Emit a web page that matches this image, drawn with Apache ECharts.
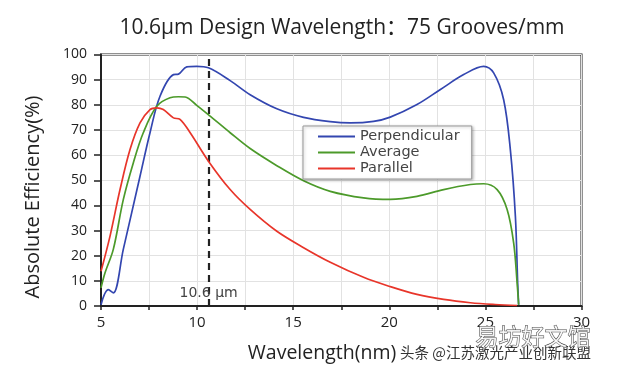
<!DOCTYPE html>
<html><head><meta charset="utf-8">
<script src="https://cdn.jsdelivr.net/npm/echarts@6/dist/echarts.min.js"></script>
<style>html,body{margin:0;padding:0;background:#fff}#c{width:620px;height:370px}</style>
</head><body><div id="c"></div>
<script>
var titleText = '10.6µm Design Wavelength：75 Grooves/mm';
var xName = 'Wavelength(nm)';
var yName = 'Absolute Efficiency(%)';
var seriesNames = ['Perpendicular', 'Average', 'Parallel'];
var designWavelength = 10.6;
var designLabel = '10.6 µm';

var perpX = [5, 5.38, 5.64, 6.16, 7.03, 7.55, 8.07, 8.77, 9.03, 9.46, 9.98, 10.59, 11.72, 12.76, 14.15, 15.54, 16.93, 17.97, 19.18, 20.05, 21.44, 22.66, 23.87, 24.91, 25.43, 25.95, 26.3, 26.56, 26.68, 26.73];
var perpY = [0.5, 6.5, 5.2, 22.5, 51.6, 68.9, 83.4, 92, 92.2, 95.1, 95.3, 94.7, 89.6, 84, 78.4, 75, 73.3, 72.8, 73.4, 75.1, 80.1, 86.1, 92, 95.3, 92.7, 82, 62, 35.7, 9, 0.5];

var avgX = [5, 5.21, 5.64, 6.16, 6.68, 7.2, 7.9, 8.59, 9.03, 9.38, 9.98, 10.68, 11.72, 12.76, 14.15, 15.54, 16.93, 18.66, 20.05, 21.44, 22.83, 24.22, 24.91, 25.61, 26.13, 26.47, 26.65, 26.73];
var avgY = [7.2, 13.2, 22.5, 42.3, 56.9, 68.9, 79.4, 82.8, 83.2, 83.1, 79.8, 75.5, 68.9, 62.6, 55.8, 49.8, 45.6, 43, 42.4, 43.6, 46.3, 48.3, 48.6, 46.3, 38.4, 25.1, 9.2, 0.5];

var parX = [5, 5.47, 5.99, 6.51, 7.03, 7.55, 7.9, 8.24, 8.77, 9.11, 9.64, 10.59, 11.72, 12.76, 14.15, 15.54, 16.93, 18.66, 20.05, 21.44, 22.83, 24.22, 25.5, 26.65];
var parY = [13.8, 27.8, 46.3, 62.2, 72.8, 78.1, 78.8, 78.1, 74.8, 74.2, 68.9, 57.6, 46.3, 38.4, 29.7, 23.2, 17.4, 11.4, 7.7, 4.6, 2.6, 1.3, 0.6, 0.2];

var xTicks = {min: 5, max: 30, step: 2.5, labelStep: 5};
var yTicks = {min: 0, max: 100, step: 10};

function pairs(xs, ys) { return xs.map(function (x, i) { return [x, ys[i]]; }); }

var colors = ['#3346b0', '#4c9a2a', '#e8352a'];
var chart = echarts.init(document.getElementById('c'), null, {renderer: 'canvas'});

function lineSeries(name, xs, ys, color) {
  return {
    name: name, type: 'line', data: pairs(xs, ys), smooth: 0.35,
    showSymbol: false, symbol: 'none', z: 3,
    lineStyle: {color: color, width: 1.7}, itemStyle: {color: color}
  };
}

var s0 = lineSeries(seriesNames[0], perpX, perpY, colors[0]);
var s1 = lineSeries(seriesNames[1], avgX, avgY, colors[1]);
var s2 = lineSeries(seriesNames[2], parX, parY, colors[2]);
s2.markLine = {
  silent: true, symbol: 'none', z: 2,
  lineStyle: {color: '#222', width: 2.2, type: [7, 5]},
  label: {show: false},
  data: [[{coord: [designWavelength, yTicks.min]}, {coord: [designWavelength, yTicks.max]}]]
};
s2.markPoint = {
  silent: true, symbol: 'circle', symbolSize: 0,
  data: [{coord: [designWavelength, 5.2]}],
  label: {show: true, formatter: designLabel, position: 'inside', color: '#444',
    fontFamily: 'DejaVu Sans', fontSize: 14}
};

var option = {
  animation: false,
  backgroundColor: '#fff',
  title: {
    text: titleText, left: 337, top: 13, textAlign: 'center',
    textStyle: {fontFamily: "'Open Sans', 'Noto Sans CJK SC'", fontSize: 21, fontWeight: 'normal', color: '#222'}
  },
  grid: {left: 101, right: 38.5, top: 54.5, bottom: 64, show: true, borderColor: '#222', borderWidth: 2, backgroundColor: 'transparent'},
  legend: {
    orient: 'vertical', left: 303, top: 126,
    data: seriesNames,
    icon: 'rect', itemWidth: 37, itemHeight: 2, itemGap: 1,
    padding: [3, 12, 3, 15],
    borderColor: '#999', borderWidth: 1, backgroundColor: '#fff',
    shadowColor: 'rgba(0,0,0,0.25)', shadowBlur: 3, shadowOffsetX: 1, shadowOffsetY: 1,
    textStyle: {fontFamily: 'DejaVu Sans', fontSize: 14.5, color: '#444'}
  },
  xAxis: {
    type: 'value', min: xTicks.min, max: xTicks.max, interval: xTicks.step,
    axisLine: {show: true, onZero: false, lineStyle: {color: '#222', width: 2}},
    axisTick: {show: true, length: 4, lineStyle: {color: '#222', width: 1.5}},
    axisLabel: {
      margin: 9, color: '#222', fontFamily: 'Open Sans', fontSize: 15,
      formatter: function (v) { return (Math.abs(v % xTicks.labelStep) < 1e-9) ? String(v) : ''; }
    },
    splitLine: {show: true, lineStyle: {color: '#e2e2e2', width: 1}}
  },
  yAxis: {
    type: 'value', min: yTicks.min, max: yTicks.max, interval: yTicks.step,
    axisLine: {show: true, lineStyle: {color: '#222', width: 2}},
    axisTick: {show: true, length: 7, lineStyle: {color: '#222', width: 1.5}},
    axisLabel: {margin: 14, color: '#222', fontFamily: 'Open Sans', fontSize: 14},
    splitLine: {show: true, lineStyle: {color: '#e2e2e2', width: 1}}
  },
  graphic: [
    {type: 'text', x: 33, y: 197, rotation: Math.PI / 2, z: 10,
     style: {text: yName, fontFamily: 'Open Sans', fontSize: 20, fill: '#222', textAlign: 'center', textVerticalAlign: 'middle'}},
    {type: 'text', x: 322, y: 353, z: 10,
     style: {text: xName, fontFamily: 'Open Sans', fontSize: 19.5, fill: '#222', textAlign: 'center', textVerticalAlign: 'middle'}},
    {type: 'text', x: 400, y: 352, z: 10,
     style: {text: '头条 @江苏激光产业创新联盟', fontFamily: 'Noto Sans CJK SC', fontSize: 14.5, fill: '#333', textAlign: 'left', textVerticalAlign: 'middle'}},
    {type: 'text', x: 533, y: 336, z: 11,
     style: {text: '易坊好文馆', fontFamily: 'Noto Sans CJK SC', fontSize: 23, fill: 'rgba(255,255,255,0.85)', stroke: '#444', lineWidth: 1, textAlign: 'center', textVerticalAlign: 'middle'}}
  ],
  series: [s0, s1, s2]
};
chart.setOption(option);
</script>
</body></html>
